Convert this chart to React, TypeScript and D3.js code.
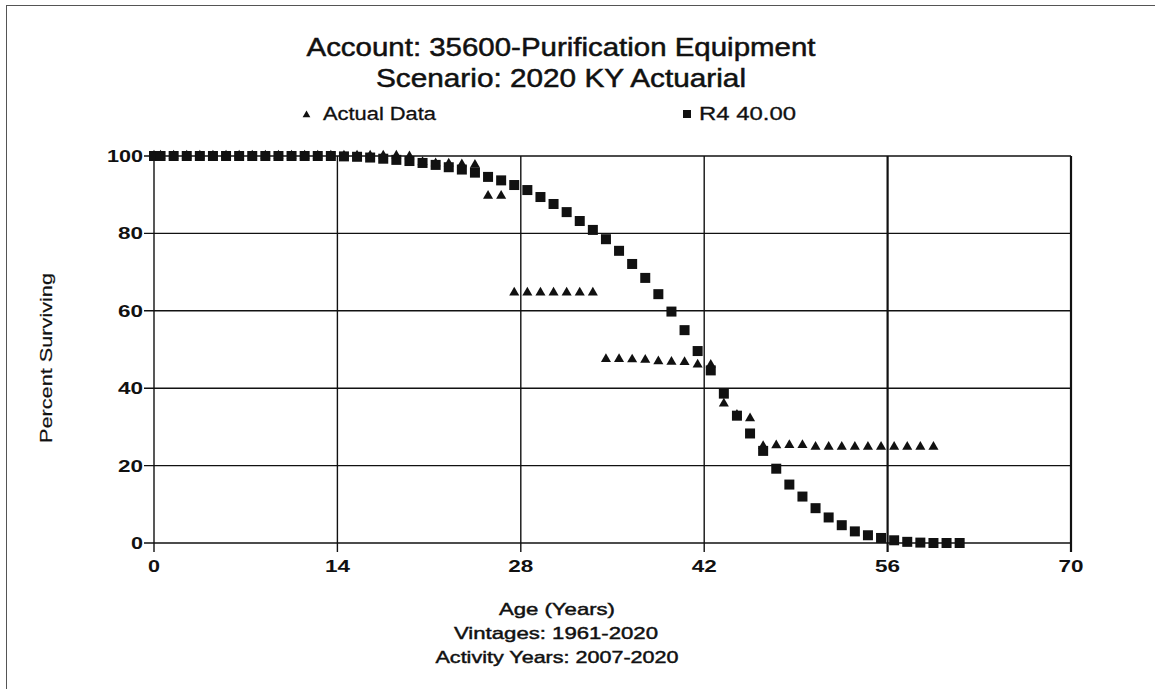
import React from "react";
import * as d3 from "d3";

const titleLines = ["Account: 35600-Purification Equipment", "Scenario: 2020 KY Actuarial"];
const legendLabels = ["Actual Data", "R4 40.00"];
const xTicks = [0, 14, 28, 42, 56, 70];
const yTicks = [0, 20, 40, 60, 80, 100];
const xLabelLines = ["Age (Years)", "Vintages: 1961-2020", "Activity Years: 2007-2020"];
const yLabel = "Percent Surviving";

const r4Ages = [0, 0.5, 1.5, 2.5, 3.5, 4.5, 5.5, 6.5, 7.5, 8.5, 9.5, 10.5, 11.5, 12.5, 13.5, 14.5, 15.5, 16.5, 17.5, 18.5, 19.5, 20.5, 21.5, 22.5, 23.5, 24.5, 25.5, 26.5, 27.5, 28.5, 29.5, 30.5, 31.5, 32.5, 33.5, 34.5, 35.5, 36.5, 37.5, 38.5, 39.5, 40.5, 41.5, 42.5, 43.5, 44.5, 45.5, 46.5, 47.5, 48.5, 49.5, 50.5, 51.5, 52.5, 53.5, 54.5, 55.5, 56.5, 57.5, 58.5, 59.5, 60.5, 61.5];
const r4Values = [100, 100, 100, 100, 100, 100, 100, 100, 100, 100, 100, 100, 100, 100, 100, 99.9, 99.8, 99.6, 99.3, 99.0, 98.7, 98.2, 97.7, 97.1, 96.5, 95.7, 94.6, 93.7, 92.5, 91.2, 89.4, 87.6, 85.5, 83.2, 80.9, 78.5, 75.5, 72.1, 68.5, 64.3, 59.8, 55.0, 49.6, 44.6, 38.6, 32.9, 28.3, 23.8, 19.2, 15.1, 12.0, 9.0, 6.6, 4.6, 3.0, 2.0, 1.3, 0.7, 0.3, 0.1, 0, 0, 0];

const actualAges = [0, 0.5, 1.5, 2.5, 3.5, 4.5, 5.5, 6.5, 7.5, 8.5, 9.5, 10.5, 11.5, 12.5, 13.5, 14.5, 15.5, 16.5, 17.5, 18.5, 19.5, 20.5, 21.5, 22.5, 23.5, 24.5, 25.5, 26.5, 27.5, 28.5, 29.5, 30.5, 31.5, 32.5, 33.5, 34.5, 35.5, 36.5, 37.5, 38.5, 39.5, 40.5, 41.5, 42.5, 43.5, 44.5, 45.5, 46.5, 47.5, 48.5, 49.5, 50.5, 51.5, 52.5, 53.5, 54.5, 55.5, 56.5, 57.5, 58.5, 59.5];
const actualValues = [100, 100, 100, 100, 100, 100, 100, 100, 100, 100, 100, 100, 100, 100, 100, 100, 100, 100, 100, 100, 99.8, 98.3, 98.0, 97.9, 97.7, 97.6, 89.6, 89.6, 64.6, 64.6, 64.6, 64.6, 64.6, 64.6, 64.6, 47.4, 47.4, 47.3, 47.2, 46.8, 46.7, 46.6, 46.0, 45.9, 35.9, 33.0, 32.1, 24.9, 25.1, 25.2, 25.2, 24.7, 24.7, 24.7, 24.7, 24.7, 24.7, 24.7, 24.7, 24.7, 24.7];

const W = 1155;
const H = 689;
const left = 154, right = 1071, top = 156, bottom = 543;
const FONT = "'Liberation Sans', Arial, sans-serif";
const INK = "#111";

export default function App() {
  const x = d3.scaleLinear().domain([0, 70]).range([left, right]);
  const y = d3.scaleLinear().domain([0, 100]).range([bottom, top]);
  const tri = d3.symbol().type(d3.symbolTriangle).size(44)() as string;
  const legendTri = d3.symbol().type(d3.symbolTriangle).size(26)() as string;
  const sq = 10;

  const actual = actualAges.map((a, i) => ({ a, v: actualValues[i] }));
  const r4 = r4Ages.map((a, i) => ({ a, v: r4Values[i] }));

  return (
    <svg width={W} height={H} style={{ position: "absolute", left: 0, top: 0, background: "#fff" }} fontFamily={FONT}>
      <rect x={6.5} y={5.5} width={W + 20} height={H + 20} fill="#fff" stroke="#555" strokeWidth={1} />

      {/* Titles */}
      <text x={561} y={55.5} textAnchor="middle" fontSize={26} fill={INK} stroke={INK} strokeWidth={0.5}
        textLength={509} lengthAdjust="spacingAndGlyphs">{titleLines[0]}</text>
      <text x={561} y={86.5} textAnchor="middle" fontSize={26} fill={INK} stroke={INK} strokeWidth={0.5}
        textLength={370} lengthAdjust="spacingAndGlyphs">{titleLines[1]}</text>

      {/* Legend */}
      <path d={legendTri} transform={`translate(${306.5},${115})`} fill={INK} />
      <text x={323} y={120} fontSize={18} fill={INK} stroke={INK} strokeWidth={0.3}
        textLength={113} lengthAdjust="spacingAndGlyphs">{legendLabels[0]}</text>
      <rect x={683} y={110} width={8} height={8} fill={INK} />
      <text x={699} y={120} fontSize={18} fill={INK} stroke={INK} strokeWidth={0.3}
        textLength={97} lengthAdjust="spacingAndGlyphs">{legendLabels[1]}</text>

      {/* Grid */}
      {yTicks.map((t) => (
        <g key={"y" + t}>
          <line x1={left - 10} x2={right} y1={y(t)} y2={y(t)} stroke={INK} strokeWidth={1.4} />
          <text x={left - 11} y={y(t) + 6} textAnchor="end" fontSize={16.5} fontWeight="bold" fill={INK}
            textLength={t === 100 ? 36 : t === 0 ? 12 : 25} lengthAdjust="spacingAndGlyphs">{t}</text>
        </g>
      ))}
      {xTicks.map((t) => (
        <g key={"x" + t}>
          <line x1={x(t)} x2={x(t)} y1={top} y2={bottom + 9} stroke={INK} strokeWidth={t >= 56 ? 2.2 : 1.4} />
          <text x={x(t)} y={bottom + 29} textAnchor="middle" fontSize={17} fontWeight="bold" fill={INK}
            textLength={t === 0 ? 12 : 25} lengthAdjust="spacingAndGlyphs">{t}</text>
        </g>
      ))}

      {/* Actual data triangles */}
      {actual.map((d, i) => (
        <path key={"t" + i} d={tri} transform={`translate(${x(d.a)},${y(d.v) - 0.5})`} fill={INK} />
      ))}
      {/* R4 squares */}
      {r4.map((d, i) => (
        <rect key={"s" + i} x={x(d.a) - sq / 2} y={y(d.v) - sq / 2} width={sq} height={sq} fill={INK} />
      ))}

      {/* Axis titles */}
      <text transform={`translate(${52},${358}) rotate(-90)`} textAnchor="middle" fontSize={16} fill={INK}
        stroke={INK} strokeWidth={0.2} textLength={170} lengthAdjust="spacingAndGlyphs">{yLabel}</text>
      <text x={557} y={615} textAnchor="middle" fontSize={17} fill={INK} stroke={INK} strokeWidth={0.45}
        textLength={116} lengthAdjust="spacingAndGlyphs">{xLabelLines[0]}</text>
      <text x={556} y={639} textAnchor="middle" fontSize={17} fill={INK} stroke={INK} strokeWidth={0.45}
        textLength={204} lengthAdjust="spacingAndGlyphs">{xLabelLines[1]}</text>
      <text x={557} y={663} textAnchor="middle" fontSize={17} fill={INK} stroke={INK} strokeWidth={0.45}
        textLength={243} lengthAdjust="spacingAndGlyphs">{xLabelLines[2]}</text>
    </svg>
  );
}
